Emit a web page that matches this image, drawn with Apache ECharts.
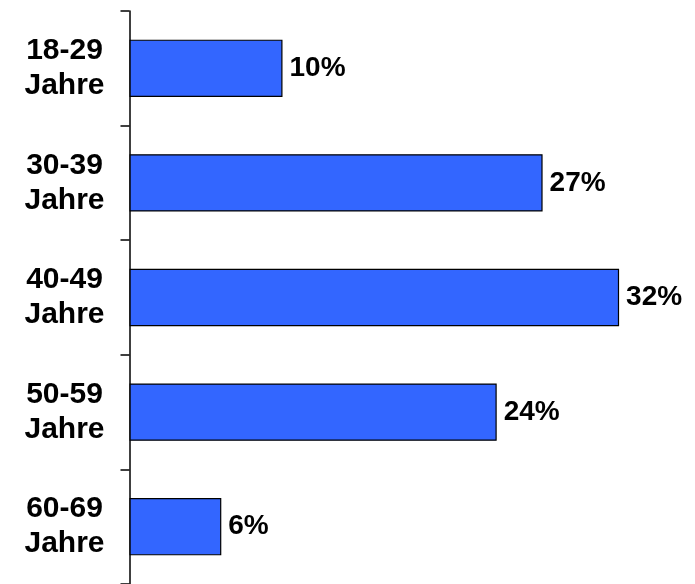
<!DOCTYPE html>
<html>
<head>
<meta charset="utf-8">
<script src="https://cdn.jsdelivr.net/npm/echarts@6/dist/echarts.min.js"></script>
<style>html,body{margin:0;padding:0;background:#fff}#c{width:695px;height:584px}</style>
</head>
<body>
<div id="c"></div>
<script>
const categories = ['18-29\nJahre', '30-39\nJahre', '40-49\nJahre', '50-59\nJahre', '60-69\nJahre'];
const values = [10, 27, 32, 24, 6];

const chart = echarts.init(document.getElementById('c'));
chart.setOption({
  animation: false,
  grid: { left: 129.5, top: 11, bottom: 0, width: 535.5 },
  xAxis: { type: 'value', min: 0, max: 35, show: false },
  yAxis: {
    type: 'category',
    data: categories,
    inverse: true,
    axisLine: { show: true, lineStyle: { color: '#000', width: 1.5 } },
    axisTick: { show: true, length: 9, lineStyle: { color: '#000', width: 1.5 } },
    axisLabel: {
      color: '#000', fontFamily: 'Liberation Sans, Arial, sans-serif', fontWeight: 'bold',
      fontSize: 30, lineHeight: 35, margin: 65, align: 'center', padding: [4, 0, 0, 0]
    }
  },
  series: [{
    type: 'bar',
    data: values,
    barWidth: '50%',
    itemStyle: { color: '#3366FF', borderColor: '#000', borderWidth: 1.2 },
    label: {
      show: true, position: 'right', distance: 7, formatter: '{c}%',
      color: '#000', fontFamily: 'Liberation Sans, Arial, sans-serif', fontWeight: 'bold', fontSize: 28,
      padding: [4, 0, 0, 0]
    }
  }]
});
</script>
</body>
</html>
